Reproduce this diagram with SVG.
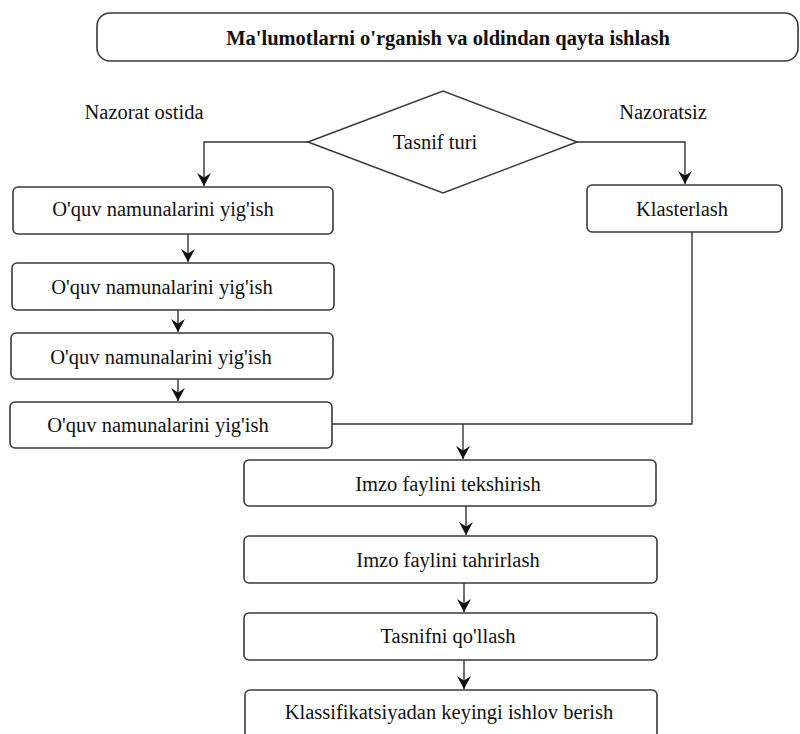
<svg xmlns="http://www.w3.org/2000/svg" width="800" height="734" viewBox="0 0 800 734">
<style>
.box{fill:#fff;stroke:#3a3a3a;stroke-width:1.6}
text{font-size:20.5px;fill:#111;text-anchor:middle}
.b{font-weight:bold}
.c{fill:none;stroke:#333;stroke-width:1.4}
</style>
<defs>
<marker id="ah" markerUnits="userSpaceOnUse" viewBox="0 0 14 14" refX="13" refY="7" markerWidth="14" markerHeight="14" orient="auto">
<path d="M0,0 L13,7 L0,14 L4.5,7 Z" fill="#111"/>
</marker>
</defs>
<rect width="800" height="734" fill="#fff"/>
<g font-family="Liberation Serif, Times New Roman, DejaVu Serif, serif">
<g id="title">
<rect class="box" x="97" y="13" width="701" height="48" rx="13"/>
<text class="b" x="448" y="45">Ma'lumotlarni o'rganish va oldindan qayta ishlash</text>
</g>
<g id="label-nazorat-ostida"><text x="144" y="119">Nazorat ostida</text></g>
<g id="label-nazoratsiz"><text x="663" y="119">Nazoratsiz</text></g>
<g id="decision">
<polygon class="box" points="308,142 443,91 577,142 443,193"/>
<text x="435" y="149">Tasnif turi</text>
</g>
<g id="n1"><rect class="box" x="13" y="187" width="320" height="47" rx="5"/><text x="163" y="216">O'quv namunalarini yig'ish</text></g>
<g id="n2"><rect class="box" x="12" y="263" width="322" height="47" rx="5"/><text x="162" y="294">O'quv namunalarini yig'ish</text></g>
<g id="n3"><rect class="box" x="11" y="333" width="322" height="46" rx="5"/><text x="161" y="364">O'quv namunalarini yig'ish</text></g>
<g id="n4"><rect class="box" x="10" y="402" width="322" height="46" rx="5"/><text x="158" y="432">O'quv namunalarini yig'ish</text></g>
<g id="klaster"><rect class="box" x="587" y="185" width="195" height="47" rx="5"/><text x="682" y="216">Klasterlash</text></g>
<g id="n5"><rect class="box" x="244" y="460" width="412" height="46" rx="5"/><text x="448" y="491">Imzo faylini tekshirish</text></g>
<g id="n6"><rect class="box" x="244" y="536" width="413" height="47" rx="5"/><text x="448" y="567">Imzo faylini tahrirlash</text></g>
<g id="n7"><rect class="box" x="244" y="613" width="413" height="47" rx="5"/><text x="448" y="643">Tasnifni qo'llash</text></g>
<g id="n8"><rect class="box" x="245" y="690" width="412" height="60" rx="5"/><text x="449" y="719">Klassifikatsiyadan keyingi ishlov berish</text></g>
</g>
<g id="connectors">
<path class="c" d="M308,142 H204 V186" marker-end="url(#ah)"/>
<path class="c" d="M577,142 H685 V184" marker-end="url(#ah)"/>
<path class="c" d="M188,234 V262" marker-end="url(#ah)"/>
<path class="c" d="M178,310 V332" marker-end="url(#ah)"/>
<path class="c" d="M178,379 V401" marker-end="url(#ah)"/>
<path class="c" d="M332,424 H692 V232"/>
<path class="c" d="M463,424 V459" marker-end="url(#ah)"/>
<path class="c" d="M466,506 V535" marker-end="url(#ah)"/>
<path class="c" d="M464,583 V612" marker-end="url(#ah)"/>
<path class="c" d="M464,660 V689" marker-end="url(#ah)"/>
</g>
</svg>
